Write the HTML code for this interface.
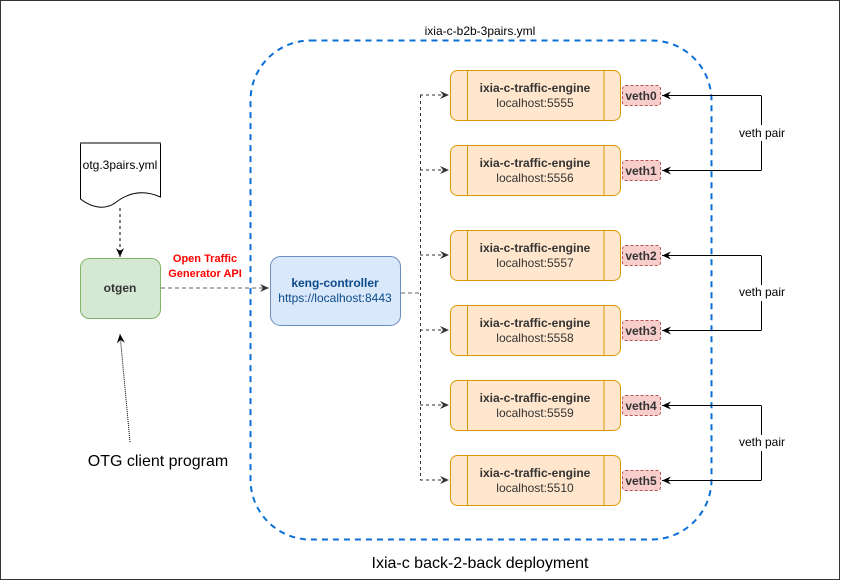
<!DOCTYPE html>
<html><head><meta charset="utf-8"><style>
html,body{margin:0;padding:0;background:#fff;}
svg{display:block;font-family:"Liberation Sans",Arial,sans-serif;}
</style></head><body>
<svg width="841" height="581" viewBox="0 0 841 581" xmlns="http://www.w3.org/2000/svg">
<defs>
<marker id="a" markerWidth="10" markerHeight="10" refX="9" refY="5" orient="auto" markerUnits="userSpaceOnUse"><path d="M0,1 L9,5 L0,9 L3,5 Z" fill="#333"/></marker>
<marker id="b" markerWidth="10" markerHeight="10" refX="9" refY="5" orient="auto" markerUnits="userSpaceOnUse"><path d="M0,1 L9,5 L0,9 L3,5 Z" fill="#000"/></marker>
</defs>
<rect x="0.5" y="0.5" width="839" height="579" fill="#fff" stroke="#333" stroke-width="1"/>
<rect x="250.5" y="40.5" width="461" height="499" rx="60" fill="none" stroke="#0b6fd6" stroke-width="2" stroke-dasharray="6,5"/>
<text x="480" y="35" font-size="12" text-anchor="middle" fill="#000">ixia-c-b2b-3pairs.yml</text>
<text x="480" y="568" font-size="16" text-anchor="middle" fill="#000">Ixia-c back-2-back deployment</text>
<path d="M80.5,143 L160.5,143 L160.5,197 C140,188 125,195 115,203 C105,210 92,208 80.5,199 Z" fill="#fff" stroke="#000" stroke-width="1"/>
<line x1="80" y1="143" x2="161" y2="143" stroke="#555" stroke-width="1.5"/>
<text x="120" y="169" font-size="12" text-anchor="middle">otg.3pairs.yml</text>
<line x1="120" y1="208" x2="120" y2="257" stroke="#000" stroke-dasharray="3,3" marker-end="url(#b)"/>
<rect x="80.5" y="258.5" width="80" height="60" rx="9" fill="#d5e8d4" stroke="#82b366"/>
<text x="120" y="292" font-size="12" font-weight="bold" text-anchor="middle" fill="#333">otgen</text>
<text x="205" y="262" font-size="11" font-weight="bold" text-anchor="middle" fill="#f00">Open Traffic</text>
<text x="205" y="277" font-size="11" font-weight="bold" text-anchor="middle" fill="#f00">Generator API</text>
<line x1="161" y1="288" x2="269" y2="288" stroke="#666" stroke-dasharray="4,3" marker-end="url(#a)"/>
<rect x="270.5" y="256.5" width="130" height="69" rx="10" fill="#dae8fc" stroke="#6c8ebf"/>
<text x="335" y="287" font-size="12" font-weight="bold" text-anchor="middle" fill="#0c4a8a">keng-controller</text>
<text x="335" y="302" font-size="12" text-anchor="middle" fill="#0c4a8a">https://localhost:8443</text>
<line x1="130" y1="442" x2="120" y2="334" stroke="#000" stroke-dasharray="1,1" marker-end="url(#b)"/>
<text x="158" y="466" font-size="16" text-anchor="middle">OTG client program</text>
<line x1="401" y1="293" x2="420" y2="293" stroke="#666" stroke-dasharray="4,3"/>
<line x1="420.5" y1="95" x2="420.5" y2="480" stroke="#333" stroke-dasharray="3,3"/>
<g stroke="#333" stroke-dasharray="3,3" fill="none">
<line x1="420" y1="95" x2="449" y2="95" marker-end="url(#a)"/>
<line x1="420" y1="170" x2="449" y2="170" marker-end="url(#a)"/>
<line x1="420" y1="255" x2="449" y2="255" marker-end="url(#a)"/>
<line x1="420" y1="330" x2="449" y2="330" marker-end="url(#a)"/>
<line x1="420" y1="405" x2="449" y2="405" marker-end="url(#a)"/>
<line x1="420" y1="480" x2="449" y2="480" marker-end="url(#a)"/>
</g>
<g font-size="12" text-anchor="middle">
<g transform="translate(0,70)"><rect x="450.5" y="0.5" width="170" height="50" rx="7" fill="#ffe6cc" stroke="#d79b00"/><line x1="467.5" y1="0" x2="467.5" y2="50" stroke="#d79b00"/><line x1="604" y1="0" x2="604" y2="50" stroke="#d79b00"/><text x="535" y="22" font-weight="bold" fill="#333">ixia-c-traffic-engine</text><text x="535" y="37" fill="#333">localhost:5555</text><rect x="622.5" y="15.5" width="38" height="20" rx="3" fill="#f8cecc" stroke="#b85450" stroke-dasharray="3,2"/><text x="641" y="30" font-weight="bold" fill="#333">veth0</text></g>
<g transform="translate(0,145)"><rect x="450.5" y="0.5" width="170" height="50" rx="7" fill="#ffe6cc" stroke="#d79b00"/><line x1="467.5" y1="0" x2="467.5" y2="50" stroke="#d79b00"/><line x1="604" y1="0" x2="604" y2="50" stroke="#d79b00"/><text x="535" y="22" font-weight="bold" fill="#333">ixia-c-traffic-engine</text><text x="535" y="37" fill="#333">localhost:5556</text><rect x="622.5" y="15.5" width="38" height="20" rx="3" fill="#f8cecc" stroke="#b85450" stroke-dasharray="3,2"/><text x="641" y="30" font-weight="bold" fill="#333">veth1</text></g>
<g transform="translate(0,230)"><rect x="450.5" y="0.5" width="170" height="50" rx="7" fill="#ffe6cc" stroke="#d79b00"/><line x1="467.5" y1="0" x2="467.5" y2="50" stroke="#d79b00"/><line x1="604" y1="0" x2="604" y2="50" stroke="#d79b00"/><text x="535" y="22" font-weight="bold" fill="#333">ixia-c-traffic-engine</text><text x="535" y="37" fill="#333">localhost:5557</text><rect x="622.5" y="15.5" width="38" height="20" rx="3" fill="#f8cecc" stroke="#b85450" stroke-dasharray="3,2"/><text x="641" y="30" font-weight="bold" fill="#333">veth2</text></g>
<g transform="translate(0,305)"><rect x="450.5" y="0.5" width="170" height="50" rx="7" fill="#ffe6cc" stroke="#d79b00"/><line x1="467.5" y1="0" x2="467.5" y2="50" stroke="#d79b00"/><line x1="604" y1="0" x2="604" y2="50" stroke="#d79b00"/><text x="535" y="22" font-weight="bold" fill="#333">ixia-c-traffic-engine</text><text x="535" y="37" fill="#333">localhost:5558</text><rect x="622.5" y="15.5" width="38" height="20" rx="3" fill="#f8cecc" stroke="#b85450" stroke-dasharray="3,2"/><text x="641" y="30" font-weight="bold" fill="#333">veth3</text></g>
<g transform="translate(0,380)"><rect x="450.5" y="0.5" width="170" height="50" rx="7" fill="#ffe6cc" stroke="#d79b00"/><line x1="467.5" y1="0" x2="467.5" y2="50" stroke="#d79b00"/><line x1="604" y1="0" x2="604" y2="50" stroke="#d79b00"/><text x="535" y="22" font-weight="bold" fill="#333">ixia-c-traffic-engine</text><text x="535" y="37" fill="#333">localhost:5559</text><rect x="622.5" y="15.5" width="38" height="20" rx="3" fill="#f8cecc" stroke="#b85450" stroke-dasharray="3,2"/><text x="641" y="30" font-weight="bold" fill="#333">veth4</text></g>
<g transform="translate(0,455)"><rect x="450.5" y="0.5" width="170" height="50" rx="7" fill="#ffe6cc" stroke="#d79b00"/><line x1="467.5" y1="0" x2="467.5" y2="50" stroke="#d79b00"/><line x1="604" y1="0" x2="604" y2="50" stroke="#d79b00"/><text x="535" y="22" font-weight="bold" fill="#333">ixia-c-traffic-engine</text><text x="535" y="37" fill="#333">localhost:5510</text><rect x="622.5" y="15.5" width="38" height="20" rx="3" fill="#f8cecc" stroke="#b85450" stroke-dasharray="3,2"/><text x="641" y="30" font-weight="bold" fill="#333">veth5</text></g>
</g>
<g stroke="#000" fill="none" stroke-width="1">
<path d="M761.5,95.5 L761.5,170.5"/><line x1="761" y1="95.5" x2="662" y2="95.5" marker-end="url(#b)"/><line x1="761" y1="170.5" x2="662" y2="170.5" marker-end="url(#b)"/>
<path d="M761.5,255.5 L761.5,330.5"/><line x1="761" y1="255.5" x2="662" y2="255.5" marker-end="url(#b)"/><line x1="761" y1="330.5" x2="662" y2="330.5" marker-end="url(#b)"/>
<path d="M761.5,405.5 L761.5,480.5"/><line x1="761" y1="405.5" x2="662" y2="405.5" marker-end="url(#b)"/><line x1="761" y1="480.5" x2="662" y2="480.5" marker-end="url(#b)"/>
</g>
<g font-size="12" text-anchor="middle">
<rect x="735" y="125" width="54" height="16" fill="#fff"/><text x="762" y="137">veth pair</text>
<rect x="735" y="285" width="54" height="16" fill="#fff"/><text x="762" y="296">veth pair</text>
<rect x="735" y="435" width="54" height="16" fill="#fff"/><text x="762" y="446">veth pair</text>
</g>
</svg>
</body></html>
